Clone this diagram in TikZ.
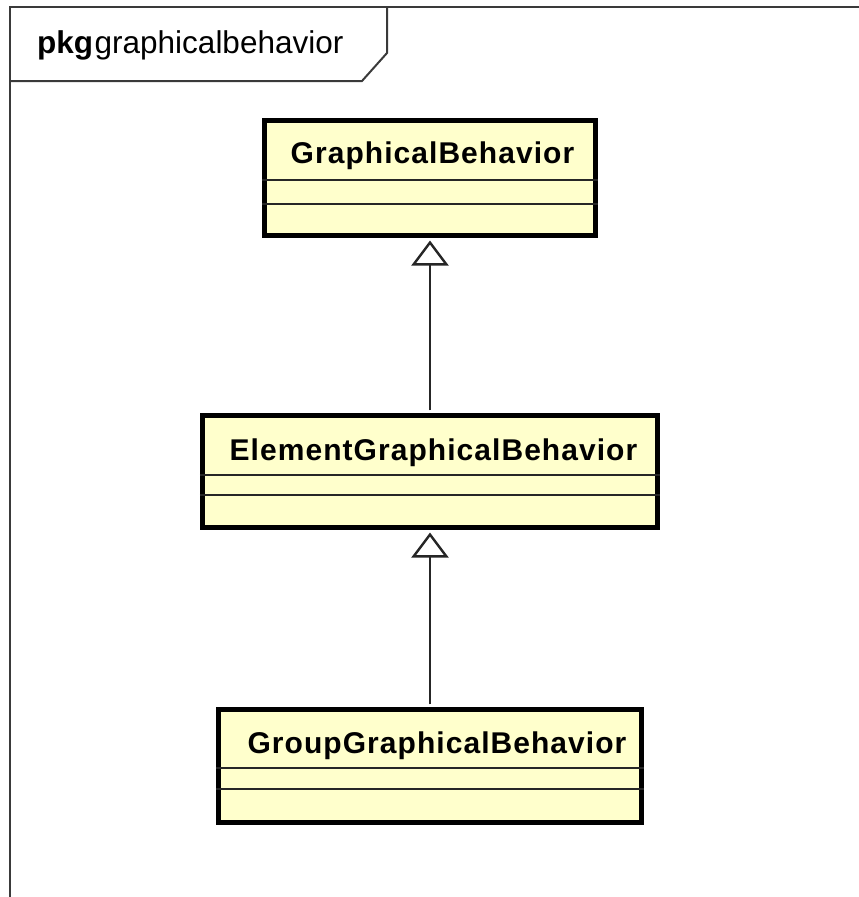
\documentclass[tikz,border=0pt]{standalone}
\usepackage{fontspec}
\setmainfont{Liberation Sans}
\usetikzlibrary{arrows.meta,calc}
\definecolor{classfill}{HTML}{FFFFCC}
\definecolor{framegray}{HTML}{3A3A3A}
\tikzset{
  classbox/.style={draw=black, line width=4.8pt, fill=classfill, rectangle, inner sep=0pt},
  classname/.style={anchor=base, inner sep=0pt,
    font={\fontsize{30}{32}\selectfont\bfseries\addfontfeature{LetterSpace=3.5}}},
  compartment/.style={draw=black!85, line width=1.8pt},
  generalization/.style={draw=black!85, line width=2.4pt,
    -{Triangle[open, length=25pt, width=37pt, fill=white, line width=2.4pt]}},
  framerule/.style={draw=framegray, line width=2.4pt},
}
\begin{document}
\begin{tikzpicture}[x=1pt, y=-1pt]
\useasboundingbox (0,0) rectangle (859,897);

% package frame and its name tab
\draw[framerule] (10,897) -- (10,7) -- (859,7);
\draw[framerule, line width=2pt] (10,81) -- (362,81) -- (387,53) -- (387,7);
\node[anchor=base west, inner sep=0pt, font={\fontsize{31.5}{33}\selectfont}] (pkglabel) at (37,53)
  {\textbf{pkg}\hspace{1.5pt}graphicalbehavior};

% classes
\node[classbox, minimum width=331.5pt, minimum height=115.5pt] (gb) at (430,178) {};
\node[classname] (gbname) at (432.5,163) {GraphicalBehavior};
\draw[compartment] ($(gb.north west)+(0,61.75)$) -- ($(gb.north east)+(0,61.75)$);
\draw[compartment] ($(gb.north west)+(0,85.75)$) -- ($(gb.north east)+(0,85.75)$);

\node[classbox, minimum width=455.5pt, minimum height=112.5pt] (egb) at (430,471.5) {};
\node[classname] (egbname) at (433.5,460) {ElementGraphicalBehavior};
\draw[compartment] ($(egb.north west)+(0,61.75)$) -- ($(egb.north east)+(0,61.75)$);
\draw[compartment] ($(egb.north west)+(0,81.75)$) -- ($(egb.north east)+(0,81.75)$);

\node[classbox, minimum width=423.5pt, minimum height=113.5pt] (ggb) at (430,766) {};
\node[classname] (ggbname) at (437,753) {GroupGraphicalBehavior};
\draw[compartment] ($(ggb.north west)+(0,60.75)$) -- ($(ggb.north east)+(0,60.75)$);
\draw[compartment] ($(ggb.north west)+(0,81.75)$) -- ($(ggb.north east)+(0,81.75)$);

% generalizations
\draw[generalization] ($(egb.north)+(0,-2.4)$) -- ($(gb.south)+(0,2.4)$);
\draw[generalization] ($(ggb.north)+(0,-2.4)$) -- ($(egb.south)+(0,2.4)$);
\end{tikzpicture}
\end{document}
